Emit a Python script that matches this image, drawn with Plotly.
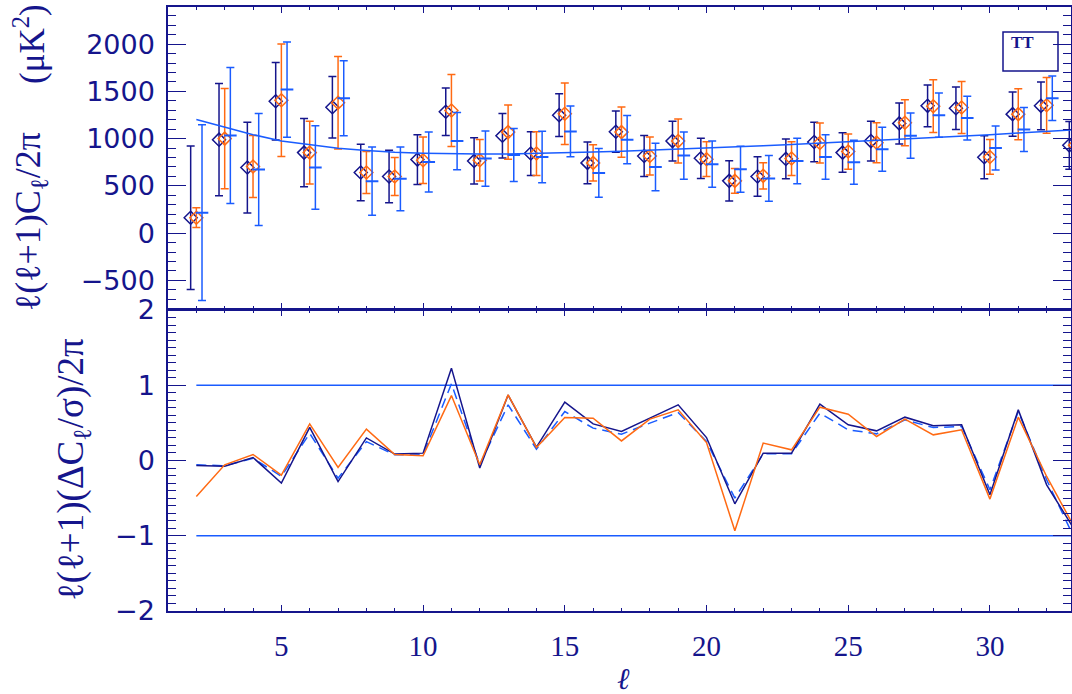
import plotly.graph_objects as go

# ---------------- data ----------------
ell = list(range(2, 34))

navy_val = [163, 989, 694, 1396, 852, 1332, 642, 599, 778, 1284, 764, 1031, 842, 1248, 743, 1073,
            816, 974, 792, 553, 599, 785, 964, 852, 974, 1161, 1347, 1322, 803, 1259, 1347, 929]
navy_err = [760, 595, 480, 410, 362, 325, 299, 279, 263, 251, 244, 236, 232, 226, 221, 218,
            216, 210, 213, 212, 208, 210, 210, 209, 210, 217, 221, 225, 227, 235, 253, 253]

orange_val = [163, 1000, 705, 1406, 852, 1379, 642, 599, 771, 1298, 771, 1069, 842, 1263, 743, 1069,
              816, 974, 782, 553, 606, 789, 953, 863, 957, 1168, 1343, 1329, 806, 1259, 1353, 930]
orange_err = [105, 530, 328, 595, 332, 490, 222, 200, 246, 381, 220, 288, 232, 325, 191, 265,
              200, 233, 184, 132, 139, 179, 212, 186, 212, 244, 279, 276, 184, 270, 295, 250]

blue_val = [216, 1034, 673, 1519, 694, 1427, 550, 574, 753, 974, 789, 827, 806, 1076, 637, 989,
            700, 820, 729, 676, 578, 764, 806, 750, 887, 1031, 1248, 1217, 901, 1097, 1427, 1000]
blue_err = [930, 720, 592, 504, 442, 397, 362, 337, 318, 303, 292, 281, 272, 268, 258, 256,
            252, 249, 245, 244, 242, 241, 236, 234, 233, 239, 234, 232, 233, 233, 236, 235]

theory = [1203, 1122, 1042, 974, 932, 897, 873, 855, 845, 838, 836, 838, 843, 850, 858, 867,
          877, 888, 899, 911, 924, 938, 952, 966, 980, 995, 1010, 1026, 1042, 1059, 1076, 1093]

navy_res = [-0.066, -0.075, 0.04, -0.30, 0.44, -0.28, 0.30, 0.085, 0.098, 1.227, -0.10, 0.87,
            0.178, 0.775, 0.487, 0.385, 0.563, 0.74, 0.305, -0.575, 0.098, 0.098, 0.749, 0.474,
            0.394, 0.576, 0.461, 0.474, -0.455, 0.673, -0.323, -0.93]
orange_res = [-0.478, -0.057, 0.08, -0.194, 0.487, -0.093, 0.417, 0.08, 0.062, 0.863, -0.057, 0.872,
              0.173, 0.571, 0.563, 0.26, 0.55, 0.673, 0.239, -0.934, 0.231, 0.142, 0.709, 0.616,
              0.319, 0.55, 0.341, 0.408, -0.513, 0.576, -0.212, -0.90]
blue_res = [-0.057, -0.07, 0.03, -0.21, 0.36, -0.234, 0.25, 0.075, 0.075, 1.02, -0.057, 0.74,
            0.15, 0.65, 0.43, 0.35, 0.497, 0.637, 0.252, -0.5, 0.089, 0.089, 0.629, 0.408,
            0.354, 0.54, 0.438, 0.451, -0.389, 0.651, -0.256, -1.05]

sigma_levels = [1, -1]
top_ticks = [-500, 0, 500, 1000, 1500, 2000]
bottom_ticks = [-2, -1, 0, 1, 2]
x_ticks = [5, 10, 15, 20, 25, 30]

# ---------------- style ----------------
NAVY = "#15158c"
ORANGE = "#ff6a13"
BLUE = "#1a5cff"
SERIF = "Liberation Serif, DejaVu Serif, serif"
SANS = "DejaVu Sans, sans-serif"
OFF = 0.2

fig = go.Figure()

def err_trace(xs, ys, es, color, symbol, size, lw):
    return go.Scatter(
        x=xs, y=ys, mode="markers", xaxis="x2", yaxis="y2", showlegend=False,
        marker=dict(symbol=symbol, size=size, color=color, line=dict(width=lw, color=color)),
        error_y=dict(type="data", array=es, visible=True, color=color, thickness=1.5, width=4),
        cliponaxis=True,
    )

fig.add_trace(err_trace([l - OFF for l in ell], navy_val, navy_err, NAVY, "diamond-open", 10, 1.5))
fig.add_trace(err_trace(ell, orange_val, orange_err, ORANGE, "diamond-open", 10, 1.5))
fig.add_trace(err_trace([l + OFF for l in ell], blue_val, blue_err, BLUE, "line-ew", 9, 2))
fig.add_trace(go.Scatter(x=ell, y=theory, mode="lines", xaxis="x2", yaxis="y2", showlegend=False,
                         line=dict(color=BLUE, width=1.5)))

# bottom panel
for lev in sigma_levels:
    fig.add_trace(go.Scatter(x=[ell[0], ell[-1]], y=[lev, lev], mode="lines", showlegend=False,
                             line=dict(color=BLUE, width=1.5)))
fig.add_trace(go.Scatter(x=ell, y=blue_res, mode="lines", showlegend=False,
                         line=dict(color=BLUE, width=1.5, dash="10px,6px")))
fig.add_trace(go.Scatter(x=ell, y=navy_res, mode="lines", showlegend=False,
                         line=dict(color=NAVY, width=1.5)))
fig.add_trace(go.Scatter(x=ell, y=orange_res, mode="lines", showlegend=False,
                         line=dict(color=ORANGE, width=1.5)))

W, H = 1072, 694
L, R, T, B = 168, 1, 7, 83
PW, PH = W - L - R, H - T - B
split = 301 / PH
LW = 1.5

def px(xp):
    return (xp - L) / PW

def py(yp):
    return (H - B - yp) / PH

axis_common = dict(showline=True, linecolor=NAVY, linewidth=LW, mirror="allticks",
                   ticks="inside", tickcolor=NAVY, tickwidth=1.2, showgrid=False, zeroline=False,
                   automargin=False)

xcommon = dict(axis_common, range=[1, 32.86], tickvals=x_ticks, ticklen=6,
               minor=dict(dtick=1, tick0=0, ticklen=3, ticks="inside", tickcolor=NAVY, tickwidth=1, showgrid=False))

fig.update_layout(
    width=W, height=H,
    margin=dict(l=L, r=R, t=T, b=B, autoexpand=False),
    paper_bgcolor="white", plot_bgcolor="white",
    xaxis=dict(xcommon, anchor="y", domain=[0, 1],
               tickfont=dict(family=SERIF, size=29, color=NAVY), ticklabelstandoff=8),
    xaxis2=dict(xcommon, anchor="y2", domain=[0, 1], matches="x", showticklabels=False),
    yaxis=dict(axis_common, anchor="x", domain=[0, split], range=[-2, 2], tickvals=bottom_ticks,
               ticklen=18, tickfont=dict(family=SANS, size=27, color=NAVY), ticklabelstandoff=6,
               minor=dict(dtick=0.1, tick0=0, ticklen=8, ticks="inside", tickcolor=NAVY, tickwidth=1, showgrid=False)),
    yaxis2=dict(axis_common, anchor="x2", domain=[split + LW / PH, 1], range=[-798, 2393], tickvals=top_ticks,
                ticklen=18, tickfont=dict(family=SANS, size=27, color=NAVY), ticklabelstandoff=6,
                minor=dict(dtick=100, tick0=0, ticklen=8, ticks="inside", tickcolor=NAVY, tickwidth=1, showgrid=False)),
)

ann = []
ann.append(dict(text="ℓ(ℓ+1)C<sub>ℓ</sub>/2π", x=px(30), y=py(222), xref="paper", yref="paper",
                textangle=-90, showarrow=False, font=dict(family=SERIF, size=36, color=NAVY),
                xanchor="center", yanchor="middle"))
ann.append(dict(text="(μK<sup>2</sup>)", x=px(29), y=py(44), xref="paper", yref="paper",
                textangle=-90, showarrow=False, font=dict(family=SERIF, size=35, color=NAVY),
                xanchor="center", yanchor="middle"))
ann.append(dict(text="ℓ(ℓ+1)(ΔC<sub>ℓ</sub>/σ)/2π", x=px(73), y=py(470), xref="paper", yref="paper",
                textangle=-90, showarrow=False, font=dict(family=SERIF, size=37, color=NAVY),
                xanchor="center", yanchor="middle"))
ann.append(dict(text="<i>ℓ</i>", x=px(623), y=py(678), xref="paper", yref="paper",
                showarrow=False, font=dict(family=SERIF, size=30, color=NAVY),
                xanchor="center", yanchor="middle"))
ann.append(dict(text="<b>TT</b>", x=px(1022), y=py(43), xref="paper", yref="paper",
                showarrow=False, font=dict(family=SERIF, size=17, color=NAVY),
                xanchor="center", yanchor="middle"))
fig.update_layout(annotations=ann)

fig.add_shape(type="rect", xref="paper", yref="paper",
              x0=px(1003), x1=px(1058), y0=py(71), y1=py(32),
              line=dict(color=NAVY, width=1.5), fillcolor="rgba(0,0,0,0)")

fig.write_html("out.html", config={"displayModeBar": False},
               post_script="document.body.style.margin='0px';document.body.style.overflow='hidden';")
